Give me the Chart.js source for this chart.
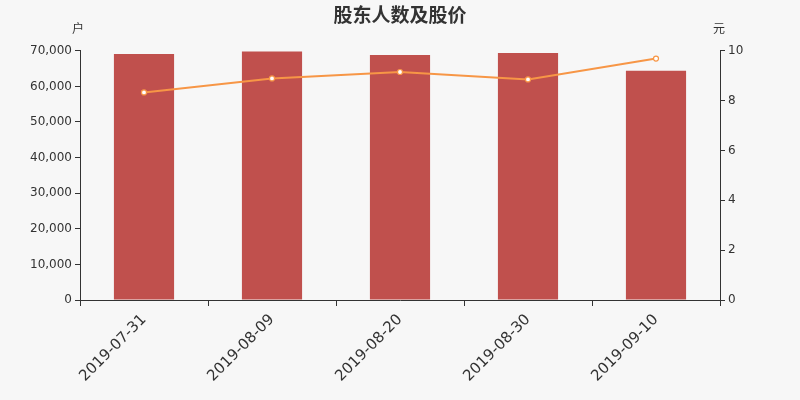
<!DOCTYPE html>
<html>
<head>
<meta charset="utf-8">
<script src="https://cdn.jsdelivr.net/npm/chart.js@4.4.0/dist/chart.umd.min.js"></script>
<style>
html,body{margin:0;padding:0;background:#f7f7f7;}
#wrap{width:800px;height:400px;}
</style>
</head>
<body>
<div id="wrap"><canvas id="c" width="800" height="400"></canvas></div>
<script>
const categories = ['2019-07-31','2019-08-09','2019-08-20','2019-08-30','2019-09-10'];
const holders = [69100, 69800, 68800, 69400, 64400];
const prices = [8.33, 8.89, 9.15, 8.85, 9.69];
const leftTicks = [0,10000,20000,30000,40000,50000,60000,70000];
const rightTicks = [0,2,4,6,8,10];
const titleText = '股东人数及股价';
const leftUnit = '户';
const rightUnit = '元';

const bgPlugin = {
  id: 'bg',
  beforeDraw(chart){
    const ctx = chart.ctx;
    ctx.save();
    ctx.fillStyle = '#f7f7f7';
    ctx.fillRect(0,0,chart.width,chart.height);
    ctx.restore();
  }
};
const unitPlugin = {
  id: 'units',
  afterDraw(chart){
    const ctx = chart.ctx;
    const a = chart.chartArea;
    ctx.save();
    ctx.fillStyle = '#333';
    ctx.font = '12px "Noto Sans CJK SC", "DejaVu Sans", sans-serif';
    ctx.textBaseline = 'middle';
    ctx.textAlign = 'center';
    ctx.fillText(leftUnit, a.left - 2, 28);
    ctx.fillText(rightUnit, a.right - 1, 28);
    ctx.restore();
  }
};

const fontTick = {family: '"DejaVu Sans", sans-serif', size: 12};

new Chart(document.getElementById('c'), {
  data: {
    labels: categories,
    datasets: [
      {
        type: 'line',
        label: '股价',
        data: prices,
        yAxisID: 'y1',
        borderColor: '#f79646',
        borderWidth: 2,
        pointRadius: 2.5,
        pointBackgroundColor: '#ffffff',
        pointBorderColor: '#f79646',
        pointBorderWidth: 1.2,
        tension: 0,
        order: 0
      },
      {
        type: 'bar',
        label: '股东人数',
        data: holders,
        yAxisID: 'y',
        backgroundColor: '#c0504d',
        barPercentage: 0.47,
        categoryPercentage: 1,
        order: 1
      }
    ]
  },
  options: {
    responsive: false,
    animation: false,
    layout: {padding: {top: 0, right: 0, bottom: 0, left: 0}},
    plugins: {
      legend: {display: false},
      tooltip: {enabled: false},
      title: {
        display: true,
        text: titleText,
        color: '#333',
        font: {family: '"Noto Sans CJK SC", sans-serif', size: 19, weight: 'bold'},
        padding: {top: 3, bottom: 25}
      }
    },
    scales: {
      x: {
        offset: true,
        grid: {display: true, drawOnChartArea: false, drawTicks: true, tickLength: 6, offset: true, color: '#333'},
        border: {display: true, color: '#333', width: 1},
        ticks: {
          color: '#333',
          font: {family: '"DejaVu Sans", sans-serif', size: 15},
          minRotation: 45, maxRotation: 45, padding: 5
        },
        afterFit(s){ s.height = 100; }
      },
      y: {
        position: 'left',
        min: 0, max: 70000,
        afterBuildTicks(s){ s.ticks = leftTicks.map(v => ({value: v})); },
        grid: {display: true, drawOnChartArea: false, drawTicks: true, tickLength: 5, color: '#333'},
        border: {display: true, color: '#333', width: 1},
        ticks: {
          color: '#333', font: fontTick, padding: 3,
          callback: v => v.toLocaleString('en-US')
        },
        afterFit(s){ s.width = 80; }
      },
      y1: {
        position: 'right',
        min: 0, max: 10,
        afterBuildTicks(s){ s.ticks = rightTicks.map(v => ({value: v})); },
        grid: {display: true, drawOnChartArea: false, drawTicks: true, tickLength: 5, color: '#333'},
        border: {display: true, color: '#333', width: 1},
        ticks: {color: '#333', font: fontTick, padding: 3},
        afterFit(s){ s.width = 80; }
      }
    }
  },
  plugins: [bgPlugin, unitPlugin]
});
</script>
</body>
</html>
